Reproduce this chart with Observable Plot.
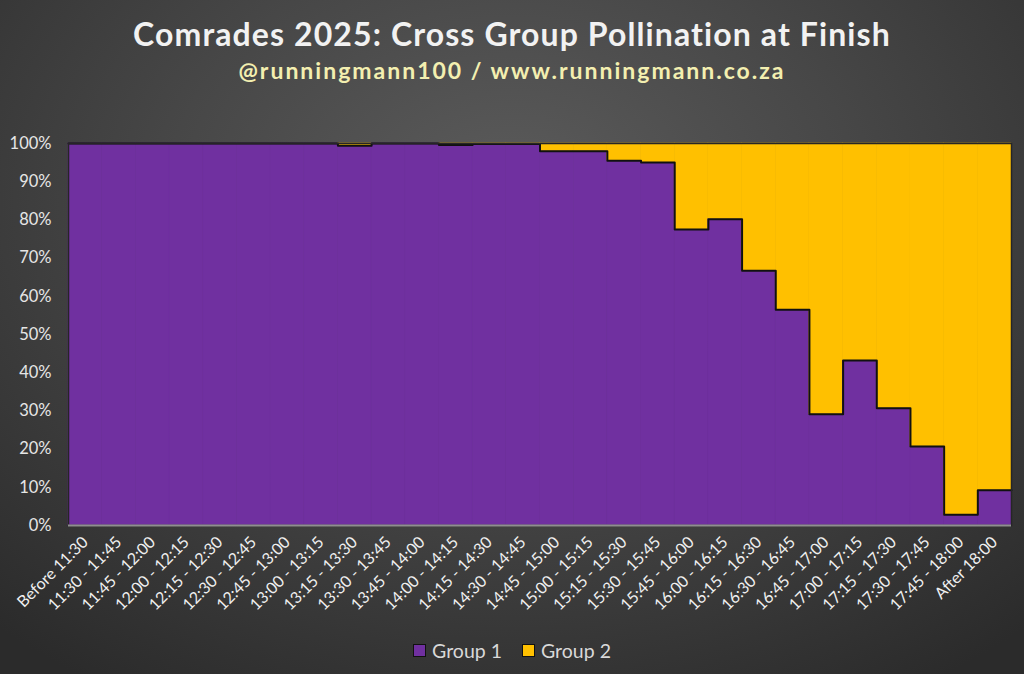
<!DOCTYPE html>
<html>
<head>
<meta charset="utf-8">
<script src="https://cdn.jsdelivr.net/npm/d3@7"></script>
<script src="https://cdn.jsdelivr.net/npm/@observablehq/plot@0.6"></script>
<style>
  html, body { margin: 0; padding: 0; }
  body {
    width: 1024px; height: 674px; overflow: hidden;
    background: radial-gradient(ellipse 75% 85% at 50% 30%, #5c5c5c 0%, #474747 45%, #2b2b2b 100%);
    font-family: Lato, "Open Sans", sans-serif;
  }
  #title { position: absolute; top: 14px; left: 0; width: 1024px; text-align: center;
    color: #f2f2f2; font-weight: bold; font-size: 32px; letter-spacing: 1.1px; }
  #subtitle { position: absolute; top: 56px; left: 0; width: 1024px; text-align: center;
    color: #f3efb0; font-weight: bold; font-size: 23px; letter-spacing: 2px; }
  #chart { position: absolute; top: 100px; left: 0; }
  #legend { position: absolute; top: 639px; left: 0; width: 1024px; display: flex; justify-content: center;
    gap: 20px; color: #d9d9d9; font-size: 19.5px; }
  .item { display: flex; align-items: center; gap: 6px; }
  .sw { width: 11px; height: 11px; border: 1.5px solid #111; }
</style>
</head>
<body>
<div id="title">Comrades 2025: Cross Group Pollination at Finish</div>
<div id="subtitle">@runningmann100 / www.runningmann.co.za</div>
<div id="chart"></div>
<div id="legend"></div>
<script>
const categories = [
  "Before 11:30", "11:30 - 11:45", "11:45 - 12:00", "12:00 - 12:15", "12:15 - 12:30",
  "12:30 - 12:45", "12:45 - 13:00", "13:00 - 13:15", "13:15 - 13:30", "13:30 - 13:45",
  "13:45 - 14:00", "14:00 - 14:15", "14:15 - 14:30", "14:30 - 14:45", "14:45 - 15:00",
  "15:00 - 15:15", "15:15 - 15:30", "15:30 - 15:45", "15:45 - 16:00", "16:00 - 16:15",
  "16:15 - 16:30", "16:30 - 16:45", "16:45 - 17:00", "17:00 - 17:15", "17:15 - 17:30",
  "17:30 - 17:45", "17:45 - 18:00", "After 18:00"
];
const group1 = [1, 1, 1, 1, 1, 1, 1, 1, 0.994, 1, 1, 0.996, 0.999, 0.999, 0.980,
  0.980, 0.955, 0.950, 0.775, 0.802, 0.667, 0.565, 0.291, 0.432, 0.307, 0.207, 0.028, 0.092];
const group2 = [0, 0, 0, 0, 0, 0, 0, 0, 0.006, 0, 0, 0.004, 0.001, 0.001, 0.020,
  0.020, 0.045, 0.050, 0.225, 0.198, 0.333, 0.435, 0.709, 0.568, 0.693, 0.793, 0.972, 0.908];
const groups = ["Group 1", "Group 2"];
const colors = ["#7030a0", "#ffc000"];
const yTicks = [0, 0.1, 0.2, 0.3, 0.4, 0.5, 0.6, 0.7, 0.8, 0.9, 1];

const long = [];
categories.forEach((c, i) => {
  long.push({i, group: groups[0], value: group1[i]});
  long.push({i, group: groups[1], value: group2[i]});
});
const stepRows = categories.map((c, i) => ({i, v: group1[i]}));
stepRows.push({i: categories.length, v: group1[group1.length - 1]});

const chart = Plot.plot({
  width: 1024,
  height: 530,
  marginTop: 43,
  marginBottom: 105,
  marginLeft: 68,
  marginRight: 13,
  style: {fontFamily: "Lato, 'Open Sans', sans-serif", background: "transparent", color: "#e6e6e6"},
  x: {type: "linear", domain: [0, categories.length]},
  y: {domain: [0, 1]},
  color: {domain: groups, range: colors},
  marks: [
    Plot.rectY(long, Plot.stackY({x: "i", interval: 1, y: "value", fill: "group", order: groups, inset: 0,
      stroke: "group", strokeWidth: 0.6})),
    Plot.line(stepRows, {x: "i", y: "v", curve: "step-after", stroke: "#111", strokeWidth: 2}),
    Plot.frame({stroke: "#262626", strokeWidth: 1.5}),
    Plot.ruleY([0], {stroke: "#8f8f8f", strokeWidth: 2}),
    Plot.axisY({ticks: yTicks, tickFormat: d => Math.round(d * 100) + "%", tickSize: 0, tickPadding: 17,
      fontSize: 16.5, fill: "#e6e6e6", label: null}),
    Plot.axisX({ticks: categories.map((c, i) => i + 0.5), tickFormat: d => categories[Math.floor(d)],
      tickRotate: -45, tickSize: 0, tickPadding: 14, fontSize: 16, fill: "#f0f0f0", label: null})
  ]
});
document.getElementById("chart").appendChild(chart);

const legend = document.getElementById("legend");
groups.forEach((g, k) => {
  const item = document.createElement("div");
  item.className = "item";
  const sw = document.createElement("div");
  sw.className = "sw";
  sw.style.background = colors[k];
  const t = document.createElement("span");
  t.textContent = g;
  item.appendChild(sw); item.appendChild(t);
  legend.appendChild(item);
});
</script>
</body>
</html>
